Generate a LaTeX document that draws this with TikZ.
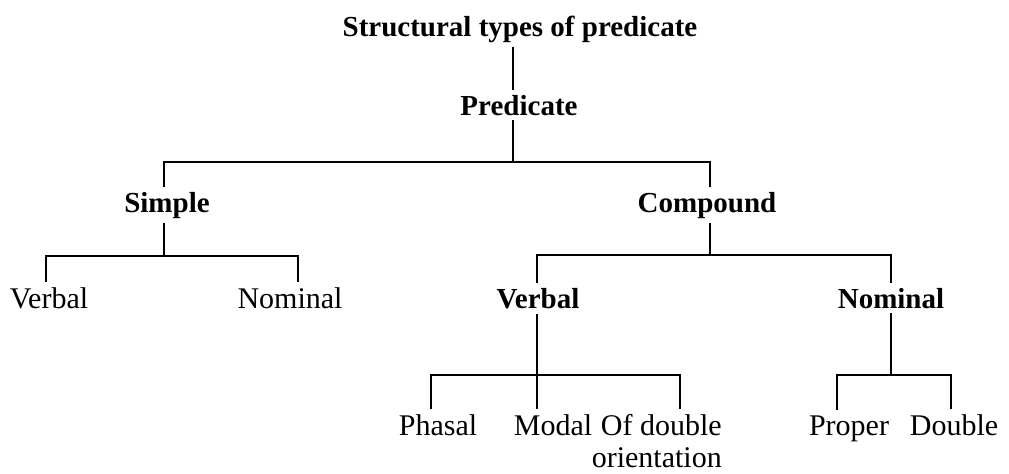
\documentclass[tikz,border=0pt]{standalone}
\usepackage{fontspec}
\setmainfont{Liberation Serif}
\tikzset{
  head/.style={inner sep=2pt, anchor=base, font=\fontsize{14.5}{16}\selectfont\bfseries},
  leaf/.style={inner sep=2pt, anchor=base, font=\fontsize{15}{16}\selectfont},
}
\begin{document}
\begin{tikzpicture}[x=0.5pt,y=-0.5pt,line width=1.2pt]
\useasboundingbox (0,0) rectangle (1009,473);
% levels
\node[head] (title) at (520,36) {Structural types of predicate};
\node[head] (pred) at (519,115) {Predicate};
\node[head] (simple) at (167,212) {Simple};
\node[head] (compound) at (707,212) {Compound};
\node[leaf] (sverbal) at (49,308) {Verbal};
\node[leaf] (snominal) at (290,308) {Nominal};
\node[head] (cverbal) at (538,308) {Verbal};
\node[head] (cnominal) at (891,308) {Nominal};
\node[leaf] (phasal) at (438,435) {Phasal};
\node[leaf] (modal) at (553,435) {Modal};
\node[leaf, align=right, anchor=base east] (orient) at (727,467) {Of double\\orientation};
\node[leaf] (proper) at (849,435) {Proper};
\node[leaf] (double) at (954,435) {Double};
% bars
\coordinate (b1) at (513,162);
\coordinate (b1w) at (164,162);
\coordinate (b1e) at (710,162);
\coordinate (b2) at (164,256);
\coordinate (b2w) at (46,256);
\coordinate (b2e) at (298,256);
\coordinate (b3) at (710,255);
\coordinate (b3w) at (537,255);
\coordinate (b3e) at (891,255);
\coordinate (b4) at (537,375);
\coordinate (b4w) at (431,375);
\coordinate (b4e) at (680,375);
\coordinate (b5) at (891,375);
\coordinate (b5w) at (837,375);
\coordinate (b5e) at (951,375);
\draw (title.south -| b1) -- (pred.north -| b1);
\draw (pred.south -| b1) -- (b1);
\draw (simple.north -| b1w) -- (b1w) -- (b1e) -- (compound.north -| b1e);
\draw (simple.south -| b2) -- (b2);
\draw (sverbal.north -| b2w) -- (b2w) -- (b2e) -- (snominal.north -| b2e);
\draw (compound.south -| b3) -- (b3);
\draw (cverbal.north -| b3w) -- (b3w) -- (b3e) -- (cnominal.north -| b3e);
\draw (cverbal.south -| b4) -- (modal.north -| b4);
\draw (phasal.north -| b4w) -- (b4w) -- (b4e) -- (orient.north -| b4e);
\draw (cnominal.south -| b5) -- (b5);
\draw (proper.north -| b5w) -- (b5w) -- (b5e) -- (double.north -| b5e);
\end{tikzpicture}
\end{document}
